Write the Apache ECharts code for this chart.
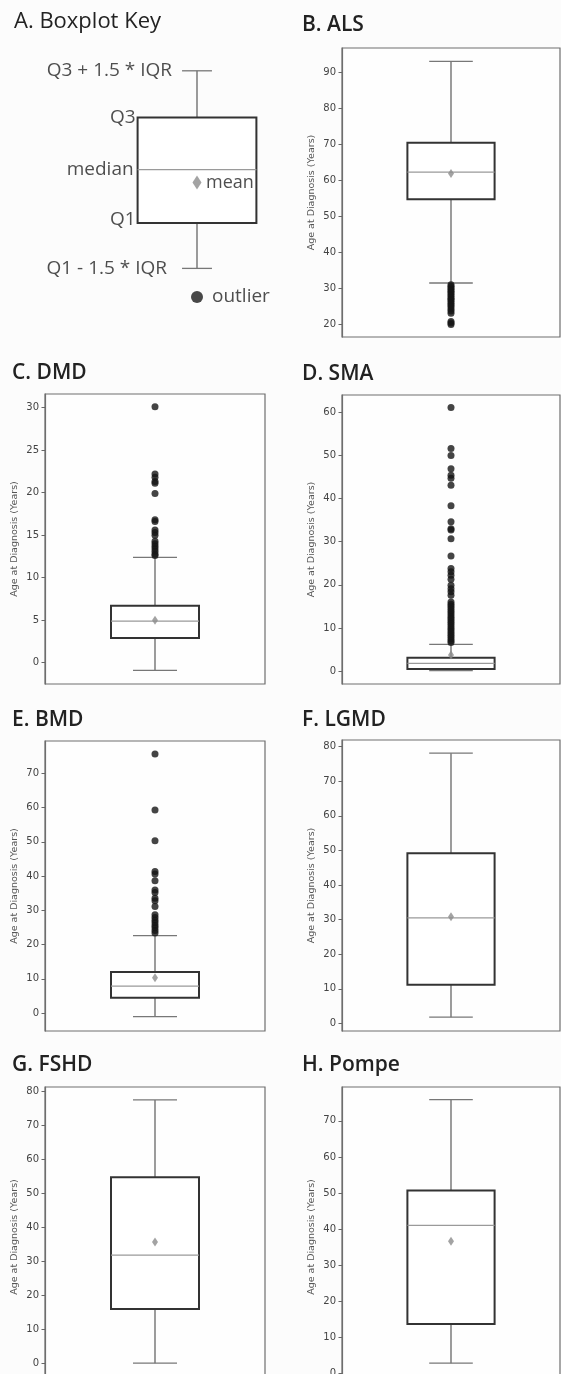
<!DOCTYPE html>
<html>
<head>
<meta charset="utf-8">
<script src="https://cdn.jsdelivr.net/npm/echarts@6/dist/echarts.min.js"></script>
<style>
html,body{margin:0;padding:0;background:#fcfcfc;overflow:hidden;}
#chart{width:561px;height:1374px;}
</style>
</head>
<body>
<div id="chart"></div>
<script>
// ---------- data ----------
const panelTitles = ['A. Boxplot Key', 'B. ALS', 'C. DMD', 'D. SMA', 'E. BMD', 'F. LGMD', 'G. FSHD', 'H. Pompe'];
const yAxisName = 'Age at Diagnosis (Years)';

// key (schematic, arbitrary units): [low whisker, Q1, median, Q3, high whisker]
const keyStats = [1.6, 3.35, 5.4, 7.4, 9.2];
const keyMean = 4.9;
const keyOutlier = 0.5;
const keyLabels = ['Q3 + 1.5 * IQR', 'Q3', 'median', 'Q1', 'Q1 - 1.5 * IQR', 'mean', 'outlier'];

// [low whisker, Q1, median, Q3, high whisker]
const alsStats = [31.4, 54.7, 62.2, 70.4, 93.0];
const alsMean = 61.8;
const alsOutliers = [30.9, 30.5, 30.0, 29.6, 29.1, 28.7, 28.2, 27.7, 27.2, 26.8, 26.3, 25.8, 25.3, 24.8, 24.2, 23.6, 23.0, 20.7, 20.3, 19.9];

const dmdStats = [-0.9, 2.9, 4.9, 6.7, 12.4];
const dmdMean = 5.0;
const dmdOutliers = [30.1, 22.2, 21.8, 21.3, 21.1, 19.9, 16.8, 16.6, 15.6, 15.3, 15.0, 14.3, 14.0, 13.7, 13.4, 13.1, 12.8, 12.6];

const smaStats = [0.1, 0.5, 1.8, 3.1, 6.2];
const smaMean = 3.7;
const smaOutliers = [61.1, 51.6, 50.0, 46.9, 45.4, 44.7, 43.1, 38.3, 34.6, 33.0, 32.7, 30.7, 26.7,
  23.8, 23.0, 22.2, 21.3, 19.9, 19.1, 18.4, 17.6,
  16.0, 15.5, 15.0, 14.5, 14.0, 13.5, 13.0, 12.5, 12.0, 11.5, 11.0, 10.5, 10.0, 9.5, 9.0, 8.5, 8.0, 7.5, 7.0, 6.6];

const bmdStats = [-1.0, 4.5, 7.9, 12.0, 22.6];
const bmdMean = 10.3;
const bmdOutliers = [75.6, 59.3, 50.3, 41.3, 40.6, 38.6, 35.9, 35.2, 33.5, 32.8, 31.1, 28.7, 27.9, 27.1, 26.4, 25.6, 24.9, 24.1, 23.4];

const lgmdStats = [1.8, 11.2, 30.5, 49.2, 78.1];
const lgmdMean = 30.8;
const lgmdOutliers = [];

const fshdStats = [0.0, 15.9, 31.8, 54.7, 77.4];
const fshdMean = 35.6;
const fshdOutliers = [];

const pompeStats = [2.8, 13.7, 41.0, 50.7, 75.9];
const pompeMean = 36.6;
const pompeOutliers = [];

const alsTicks = [20, 30, 40, 50, 60, 70, 80, 90];
const dmdTicks = [0, 5, 10, 15, 20, 25, 30];
const smaTicks = [0, 10, 20, 30, 40, 50, 60];
const bmdTicks = [0, 10, 20, 30, 40, 50, 60, 70];
const lgmdTicks = [0, 10, 20, 30, 40, 50, 60, 70, 80];
const fshdTicks = [0, 10, 20, 30, 40, 50, 60, 70, 80];
const pompeTicks = [0, 10, 20, 30, 40, 50, 60, 70];

// ---------- layout ----------
const panels = [
  {stats: alsStats,   mean: alsMean,   out: alsOutliers,   ticks: alsTicks,   range: [16.4, 96.7], grid: {left: 342, right: 1, top: 48, height: 289}},
  {stats: dmdStats,   mean: dmdMean,   out: dmdOutliers,   ticks: dmdTicks,   range: [-2.5, 31.6], grid: {left: 45, width: 220, top: 394, height: 290}},
  {stats: smaStats,   mean: smaMean,   out: smaOutliers,   ticks: smaTicks,   range: [-3.0, 64.0], grid: {left: 342, right: 1, top: 395, height: 289}},
  {stats: bmdStats,   mean: bmdMean,   out: bmdOutliers,   ticks: bmdTicks,   range: [-5.2, 79.4], grid: {left: 45, width: 220, top: 741, height: 290}},
  {stats: lgmdStats,  mean: lgmdMean,  out: lgmdOutliers,  ticks: lgmdTicks,  range: [-2.2, 81.9], grid: {left: 342, right: 1, top: 740, height: 291}},
  {stats: fshdStats,  mean: fshdMean,  out: fshdOutliers,  ticks: fshdTicks,  range: [-7.0, 81.2], grid: {left: 45, width: 220, top: 1087, height: 300}},
  {stats: pompeStats, mean: pompeMean, out: pompeOutliers, ticks: pompeTicks, range: [-3.8, 79.4], grid: {left: 342, right: 1, top: 1087, height: 300}}
];
const titlePos = [[14, 11], [302, 15], [12, 363], [302, 364], [12, 710], [302, 710], [12, 1055], [302, 1055]];

const TITLE_FONT = '"Open Sans", sans-serif';
const AXIS_FONT = '"DejaVu Sans", sans-serif';

function boxRenderer(halfBox, halfCap, boxLW) {
  return function (params, api) {
    const xc = 0.5;
    const lo = api.value(0), q1 = api.value(1), md = api.value(2), q3 = api.value(3), hi = api.value(4);
    const P = (x, y) => api.coord([x, y]);
    const line = (a, b, color, w) => ({type: 'line', shape: {x1: a[0], y1: a[1], x2: b[0], y2: b[1]}, style: {stroke: color, lineWidth: w}});
    const tl = P(xc - halfBox, q3), br = P(xc + halfBox, q1);
    return {
      type: 'group',
      children: [
        line(P(xc, q3), P(xc, hi), '#666', 1.3),
        line(P(xc, lo), P(xc, q1), '#666', 1.3),
        line(P(xc - halfCap, hi), P(xc + halfCap, hi), '#777', 1.3),
        line(P(xc - halfCap, lo), P(xc + halfCap, lo), '#777', 1.3),
        {type: 'rect', shape: {x: tl[0], y: tl[1], width: br[0] - tl[0], height: br[1] - tl[1]},
         style: {fill: '#ffffff', stroke: '#333', lineWidth: boxLW}},
        line(P(xc - halfBox, md), P(xc + halfBox, md), '#9a9a9a', 1.3)
      ]
    };
  };
}

const grids = [], xAxes = [], yAxes = [], series = [];

// key panel (index 0)
grids.push({left: 87, width: 220, top: 50, height: 260, show: false, outerBoundsMode: 'none'});
xAxes.push({type: 'value', gridIndex: 0, min: 0, max: 1, show: false});
yAxes.push({type: 'value', gridIndex: 0, min: 0, max: 10, show: false});
series.push({type: 'custom', xAxisIndex: 0, yAxisIndex: 0, renderItem: boxRenderer(0.27, 0.068, 2), data: [keyStats], z: 2});
series.push({type: 'scatter', xAxisIndex: 0, yAxisIndex: 0, symbol: 'diamond', symbolSize: [9, 14],
  itemStyle: {color: '#8c8c8c'}, data: [[0.5, keyMean]], z: 5, silent: true});
series.push({type: 'scatter', xAxisIndex: 0, yAxisIndex: 0, symbol: 'circle', symbolSize: 12,
  itemStyle: {color: '#1a1a1a'}, data: [[0.5, keyOutlier]], z: 5, silent: true});
const keyAnchors = [
  [0.432, keyStats[4], 'left', 10],
  [0.23, keyStats[3], 'left', 2],
  [0.23, keyStats[2], 'left', 4],
  [0.23, keyStats[1] + 0.12, 'left', 2],
  [0.432, keyStats[0], 'left', 15],
  [0.5, keyMean, 'right', 9],
  [0.5, keyOutlier, 'right', 15]
];
series.push({
  type: 'scatter', xAxisIndex: 0, yAxisIndex: 0, symbolSize: 0, silent: true, z: 6,
  data: keyAnchors.map((a, i) => ({value: [a[0], a[1]], name: keyLabels[i],
    label: {show: true, position: a[2], distance: a[3], formatter: '{b}',
      color: '#222', fontFamily: TITLE_FONT, fontSize: i === 5 ? 18 : 19}}))
});

panels.forEach((p, k) => {
  const gi = k + 1;
  grids.push(Object.assign({show: true, borderColor: '#6e6e6e', borderWidth: 1.2, backgroundColor: '#fefefe', outerBoundsMode: 'none'}, p.grid));
  xAxes.push({type: 'value', gridIndex: gi, min: 0, max: 1, show: false});
  yAxes.push({
    type: 'value', gridIndex: gi, min: p.range[0], max: p.range[1],
    name: yAxisName, nameLocation: 'middle', nameRotate: 90, nameGap: 25,
    nameTextStyle: {fontFamily: AXIS_FONT, fontSize: 9.5, color: '#555'},
    axisLine: {show: true, lineStyle: {color: '#6e6e6e', width: 1.2}},
    axisTick: {show: true, length: 3.5, customValues: p.ticks, lineStyle: {color: '#666', width: 1}},
    axisLabel: {show: true, customValues: p.ticks, margin: 6, fontFamily: AXIS_FONT, fontSize: 10, color: '#444'},
    splitLine: {show: false}
  });
  series.push({type: 'custom', xAxisIndex: gi, yAxisIndex: gi, renderItem: boxRenderer(0.2, 0.1, 2), data: [p.stats], z: 2, clip: true});
  series.push({type: 'scatter', xAxisIndex: gi, yAxisIndex: gi, symbol: 'circle', symbolSize: 7,
    itemStyle: {color: '#151515'}, data: p.out.map(v => [0.5, v]), z: 4, silent: true});
  series.push({type: 'scatter', xAxisIndex: gi, yAxisIndex: gi, symbol: 'diamond', symbolSize: [6, 9],
    itemStyle: {color: '#8c8c8c'}, data: [[0.5, p.mean]], z: 5, silent: true});
});

const titles = panelTitles.map((t, i) => ({
  text: t, left: titlePos[i][0], top: titlePos[i][1], padding: 0,
  textStyle: {fontFamily: TITLE_FONT, fontSize: i === 0 ? 22 : 21, fontWeight: i === 0 ? 400 : 600, color: '#222'}
}));

const chart = echarts.init(document.getElementById('chart'), null, {renderer: 'canvas'});
chart.setOption({
  backgroundColor: '#fcfcfc',
  animation: false,
  title: titles,
  grid: grids,
  xAxis: xAxes,
  yAxis: yAxes,
  series: series
});
</script>
</body>
</html>
